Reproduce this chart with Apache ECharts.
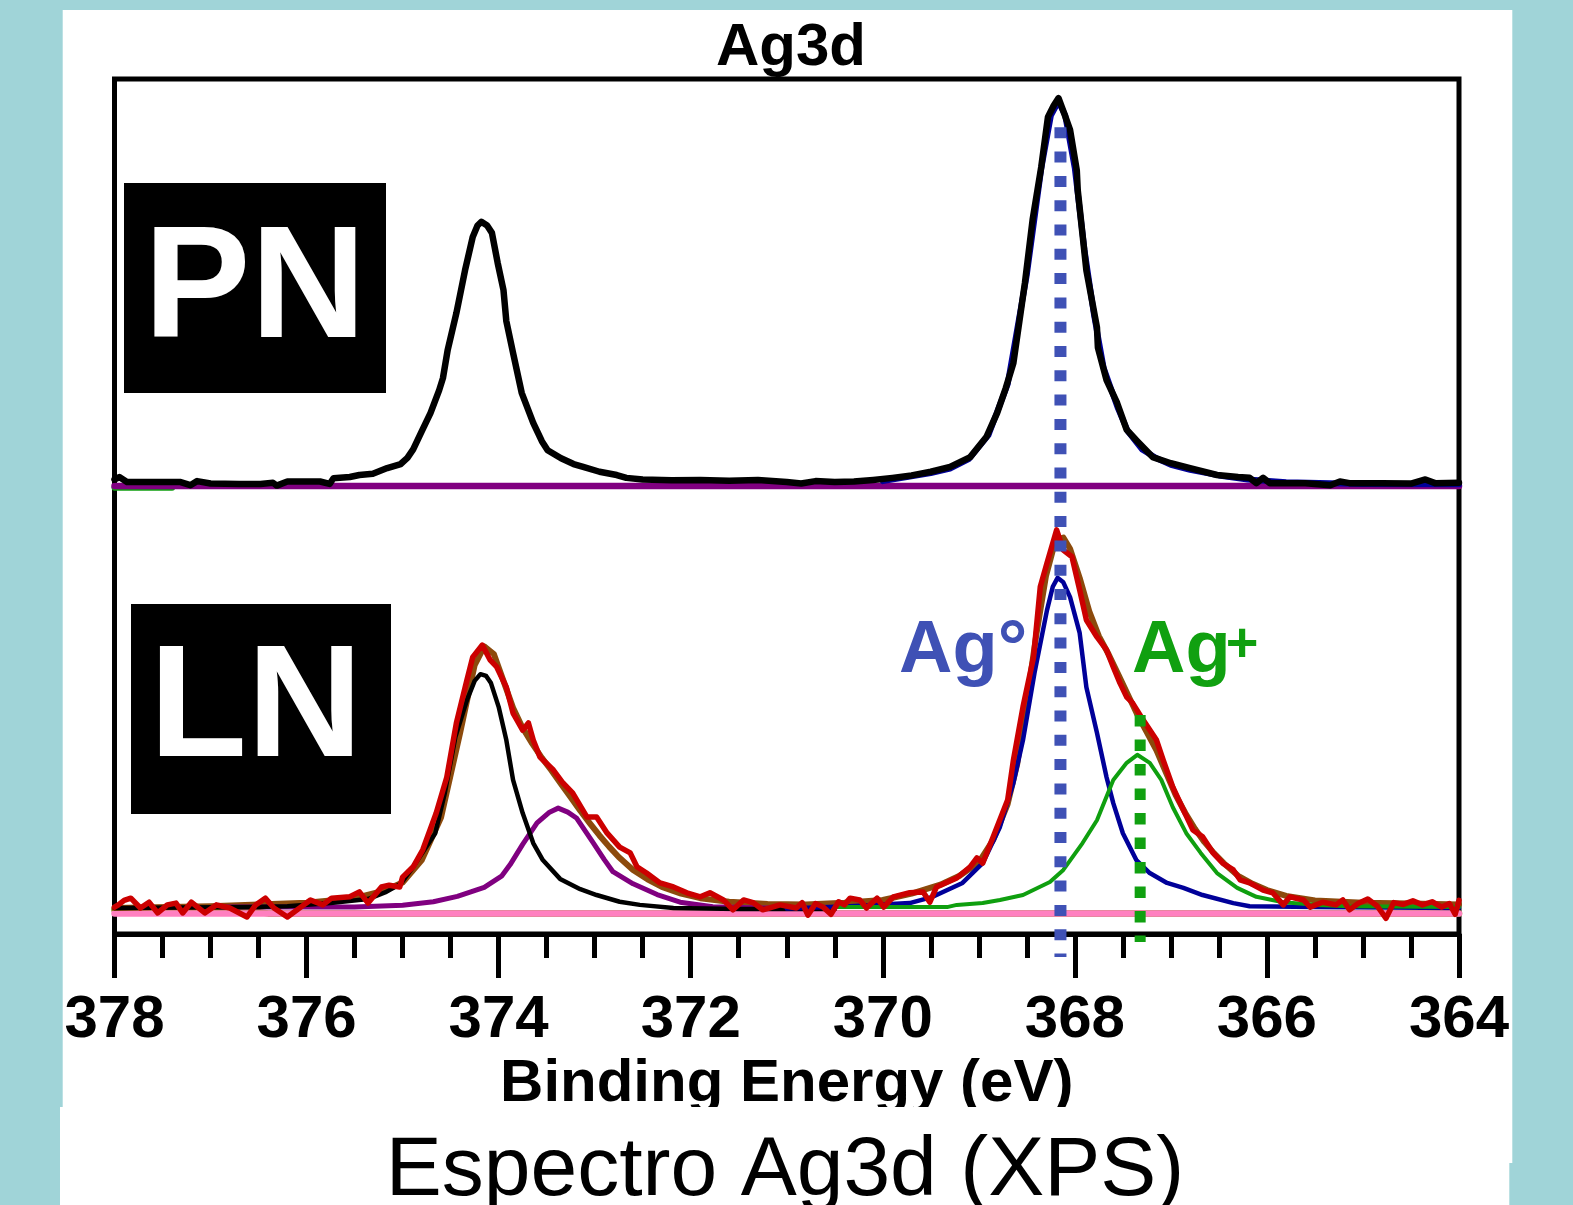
<!DOCTYPE html>
<html lang="es">
<head>
    <meta charset="UTF-8">
    <title>Espectro Ag3d (XPS)</title>
    <style>
        html, body { margin: 0; padding: 0; background: #a0d4d8; }
        #main { width: 1573px; height: 1205px; }
    </style>
</head>
<body>
<div id="main"></div>
<script src="https://cdn.jsdelivr.net/npm/echarts@6/dist/echarts.min.js"></script>
<script>
    // ---- datos: [energía de enlace (eV), intensidad (u.a.)] ----

    // panel PN (arriba)
    const pnMedido = [
        [378.00, 1.6], [377.95, 2.2], [377.87, 1.0], [377.60, 1.0], [377.32, 1.0], [377.21, 0.2],
        [377.14, 1.2], [377.00, 0.6], [376.70, 0.5], [376.48, 0.5], [376.35, 0.8], [376.31, 0.1],
        [376.20, 1.1], [375.95, 1.1], [375.86, 1.1], [375.76, 0.5], [375.72, 1.9], [375.55, 2.2],
        [375.45, 2.7], [375.31, 3.0], [375.16, 4.4], [375.02, 5.4], [374.95, 6.9], [374.89, 9.0],
        [374.80, 13.5], [374.71, 17.9], [374.62, 23.5], [374.58, 26.5], [374.53, 33.5], [374.44, 42.5],
        [374.35, 53.0], [374.27, 61.2], [374.22, 64.0], [374.18, 64.9], [374.12, 64.0], [374.07, 62.2],
        [374.01, 54.8], [373.95, 48.2], [373.92, 40.5], [373.85, 32.7], [373.76, 22.9], [373.64, 15.5],
        [373.55, 11.0], [373.49, 8.8], [373.35, 6.8], [373.22, 5.4], [373.12, 4.7], [372.95, 3.5],
        [372.77, 2.7], [372.67, 2.0], [372.50, 1.6], [372.20, 1.4], [371.90, 1.5], [371.60, 1.3],
        [371.30, 1.5], [371.00, 1.0], [370.85, 0.6], [370.70, 1.2], [370.50, 1.0], [370.30, 1.1],
        [370.10, 1.5], [369.90, 2.0], [369.70, 2.6], [369.50, 3.5], [369.30, 4.7], [369.09, 7.1],
        [368.92, 12.1], [368.81, 17.9], [368.72, 24.0], [368.64, 30.2], [368.55, 45.0], [368.52, 49.9],
        [368.44, 65.4], [368.35, 78.4], [368.28, 90.7], [368.22, 93.5], [368.17, 95.3], [368.11, 91.5],
        [368.05, 87.5], [367.98, 77.6], [367.97, 72.7], [367.88, 53.0], [367.77, 39.0], [367.76, 34.0],
        [367.67, 26.0], [367.56, 20.4], [367.46, 13.8], [367.35, 11.0], [367.19, 7.1], [367.00, 5.6],
        [366.80, 4.4], [366.52, 2.7], [366.30, 2.2], [366.18, 2.0], [366.11, 0.7], [366.04, 2.0],
        [365.97, 0.7], [365.60, 0.7], [365.34, 0.2], [365.24, 1.1], [365.14, 0.7], [364.80, 0.7],
        [364.50, 0.6], [364.35, 1.6], [364.25, 0.7], [364.00, 0.8]
    ];
    const pnAjuste = [
        [370.0, 1.2], [369.5, 3.2], [369.3, 4.3], [369.1, 6.7], [368.9, 12.5], [368.7, 25.0],
        [368.5, 52.0], [368.35, 78.0], [368.25, 91.0], [368.17, 94.5], [368.1, 91.0], [368.0, 78.0],
        [367.9, 58.0], [367.8, 42.0], [367.7, 29.0], [367.55, 19.0], [367.45, 13.5], [367.3, 9.0],
        [367.15, 6.8], [367.0, 5.2], [366.8, 4.0], [366.5, 2.6], [366.2, 1.6], [365.8, 0.9],
        [365.0, 0.5], [364.0, 0.4]
    ];
    const pnFondo = [[378, 0], [364, 0]];
    const pnFondoVerde = [[378, -0.4], [377.4, -0.4]];

    // panel LN (abajo)
    const lnMedido = [
        [378.00, 6.0], [377.96, 6.5], [377.90, 7.5], [377.83, 8.0], [377.73, 5.8], [377.64, 7.1],
        [377.55, 4.7], [377.45, 6.5], [377.36, 6.9], [377.29, 4.7], [377.20, 7.1], [377.06, 4.7],
        [376.94, 6.5], [376.80, 5.8], [376.62, 3.8], [376.53, 6.5], [376.43, 8.0], [376.34, 5.8],
        [376.20, 3.8], [376.06, 6.0], [375.96, 7.6], [375.83, 6.5], [375.74, 8.0], [375.55, 8.3],
        [375.45, 9.4], [375.36, 6.9], [375.22, 10.5], [375.14, 10.9], [375.03, 10.5], [375.00, 12.7],
        [374.89, 15.0], [374.79, 18.8], [374.65, 27.0], [374.54, 35.0], [374.44, 47.1], [374.33, 56.7],
        [374.27, 61.8], [374.17, 64.5], [374.09, 61.2], [374.02, 59.6], [373.92, 55.1], [373.85, 49.3],
        [373.75, 45.5], [373.69, 47.1], [373.64, 43.3], [373.57, 39.5], [373.43, 36.6], [373.33, 33.7],
        [373.23, 31.5], [373.08, 26.1], [372.98, 26.1], [372.87, 22.5], [372.74, 19.4], [372.63, 18.1],
        [372.56, 15.0], [372.46, 13.6], [372.32, 11.4], [372.18, 10.5], [372.04, 9.2], [371.90, 8.3],
        [371.80, 9.2], [371.66, 7.6], [371.56, 5.4], [371.45, 7.6], [371.35, 7.0], [371.25, 5.4],
        [371.07, 6.5], [370.90, 5.8], [370.84, 7.0], [370.78, 4.2], [370.70, 6.8], [370.62, 6.0],
        [370.54, 4.4], [370.46, 7.2], [370.40, 6.5], [370.34, 8.0], [370.24, 7.6], [370.17, 5.8],
        [370.06, 8.0], [369.99, 6.0], [369.89, 8.3], [369.72, 9.2], [369.58, 9.4], [369.51, 7.1],
        [369.44, 10.5], [369.23, 12.5], [369.09, 15.0], [369.02, 17.0], [368.96, 15.8], [368.85, 21.7],
        [368.70, 29.9], [368.64, 38.8], [368.54, 50.7], [368.43, 61.8], [368.36, 77.5], [368.29, 82.8],
        [368.19, 90.2], [368.12, 85.7], [368.03, 84.2], [367.95, 76.8], [367.88, 70.1], [367.77, 66.3],
        [367.67, 63.4], [367.60, 59.6], [367.53, 56.0], [367.46, 52.9], [367.40, 51.6], [367.29, 47.8],
        [367.15, 43.3], [367.08, 38.8], [366.98, 32.8], [366.87, 27.7], [366.77, 23.2], [366.67, 21.7],
        [366.56, 18.1], [366.46, 15.8], [366.35, 14.3], [366.28, 12.1], [366.18, 11.4], [366.04, 9.8],
        [365.94, 9.2], [365.83, 6.5], [365.76, 8.3], [365.62, 7.6], [365.55, 6.0], [365.42, 7.1],
        [365.28, 6.5], [365.21, 7.6], [365.14, 5.4], [365.05, 6.8], [364.95, 7.8], [364.85, 6.2],
        [364.76, 3.5], [364.68, 7.0], [364.58, 6.6], [364.48, 7.4], [364.38, 6.5], [364.28, 7.2],
        [364.18, 6.0], [364.10, 6.8], [364.04, 4.4], [364.00, 7.5]
    ];
    const lnEnvolvente = [
        [378.0, 5.8], [377.0, 6.2], [376.0, 7.0], [375.5, 8.0], [375.2, 9.6], [375.0, 11.5],
        [374.8, 16.5], [374.6, 26.0], [374.4, 45.0], [374.25, 60.0], [374.15, 64.2], [374.05, 62.5],
        [373.95, 56.5], [373.85, 50.5], [373.75, 46.0], [373.65, 42.5], [373.55, 39.3], [373.45, 36.5],
        [373.35, 33.5], [373.25, 30.5], [373.15, 27.5], [373.05, 24.7], [372.95, 22.0], [372.85, 19.5],
        [372.75, 17.2], [372.6, 14.3], [372.45, 12.2], [372.3, 10.5], [372.1, 9.0], [371.9, 8.0],
        [371.6, 7.2], [371.2, 6.7], [370.8, 6.6], [370.4, 7.0], [370.0, 7.6], [369.7, 9.0],
        [369.4, 11.0], [369.2, 13.0], [369.0, 16.0], [368.85, 21.0], [368.7, 29.0], [368.6, 38.0],
        [368.5, 52.0], [368.4, 67.0], [368.3, 80.0], [368.2, 88.0], [368.12, 88.5], [368.05, 86.0],
        [367.95, 79.5], [367.85, 72.0], [367.75, 66.5], [367.65, 62.5], [367.55, 58.0], [367.45, 53.5],
        [367.35, 49.0], [367.25, 45.0], [367.15, 41.0], [367.05, 36.0], [366.95, 31.0], [366.85, 27.0],
        [366.75, 23.5], [366.65, 20.5], [366.55, 18.0], [366.45, 15.8], [366.3, 13.0], [366.15, 11.2],
        [366.0, 9.8], [365.8, 8.5], [365.5, 7.5], [365.0, 7.0], [364.5, 6.8], [364.0, 6.6]
    ];
    const lnAg0_32 = [   // Ag° 3d3/2
        [378.0, 5.8], [376.6, 6.0], [376.2, 6.2], [375.75, 6.9], [375.36, 7.8], [375.17, 9.4],
        [375.02, 11.2], [374.89, 15.0], [374.78, 18.6], [374.66, 22.5], [374.56, 31.5], [374.45, 44.0],
        [374.33, 52.2], [374.25, 56.5], [374.19, 58.0], [374.13, 57.6], [374.08, 56.0], [374.00, 50.7],
        [373.92, 43.3], [373.85, 34.4], [373.75, 27.0], [373.64, 20.3], [373.54, 16.5], [373.36, 12.3],
        [373.15, 10.0], [372.98, 8.7], [372.74, 7.2], [372.53, 6.5], [372.18, 5.8], [371.5, 5.6],
        [370.5, 5.6]
    ];
    const lnAgI_32 = [   // Ag+ 3d3/2
        [376.9, 6.0], [375.5, 6.0], [375.0, 6.4], [374.68, 7.2], [374.43, 8.4], [374.15, 10.4],
        [373.97, 12.9], [373.88, 15.5], [373.75, 20.0], [373.60, 24.8], [373.47, 27.2], [373.38, 28.1],
        [373.28, 27.2], [373.19, 25.9], [373.02, 20.5], [372.90, 16.6], [372.81, 13.9], [372.60, 11.2],
        [372.35, 8.8], [372.11, 7.1], [371.77, 6.1], [371.25, 5.8], [370.5, 5.7]
    ];
    const lnAg0_52 = [   // Ag° 3d5/2
        [371.0, 5.7], [370.34, 6.2], [369.72, 6.9], [369.48, 8.3], [369.17, 11.4], [368.96, 15.8],
        [368.78, 23.9], [368.64, 33.7], [368.54, 43.3], [368.42, 58.3], [368.29, 72.3], [368.23, 77.5],
        [368.18, 79.5], [368.12, 78.5], [368.05, 75.2], [367.95, 67.2], [367.88, 55.1], [367.77, 44.9],
        [367.67, 35.0], [367.60, 29.2], [367.50, 22.5], [367.36, 16.5], [367.22, 13.6], [367.04, 11.4],
        [366.87, 10.3], [366.67, 8.7], [366.35, 6.9], [366.18, 6.2], [365.48, 6.0], [364.0, 5.8]
    ];
    const lnAgI_52 = [   // Ag+ 3d5/2
        [370.5, 6.0], [369.33, 6.0], [369.23, 6.5], [368.96, 6.9], [368.78, 7.6], [368.54, 8.7],
        [368.26, 11.6], [368.12, 14.3], [367.92, 20.3], [367.77, 25.4], [367.60, 34.4], [367.46, 38.2],
        [367.35, 40.0], [367.22, 38.2], [367.10, 34.4], [366.98, 28.3], [366.84, 22.5], [366.69, 18.1],
        [366.52, 13.6], [366.31, 10.3], [366.11, 8.3], [365.83, 7.1], [365.48, 6.5], [365.14, 6.2],
        [364.0, 6.0]
    ];
    const lnFondo = [[378, 4.6], [364, 4.6]];
    const lnFondoOliva = [[378, 5.4], [376.6, 5.2], [376.4, 4.6], [364, 4.6]];

    // posiciones de referencia (eV)
    const posAg0 = 368.15;
    const posAgI = 367.32;

    // ---- diseño ----
    const FONT = '"Liberation Sans", Arial, Helvetica, sans-serif';
    const L = 114.5, W = 1344.5, T = 79, MID = 486, B = 934;
    const frac = px => (B - px) / (B - T);   // pixel -> eje y del marco (0..1)

    const dom = document.getElementById('main');
    const myChart = echarts.init(dom, null, {renderer: 'canvas'});

    function linea(data, color, width, xi, z) {
        return {
            type: 'line', xAxisIndex: xi, yAxisIndex: xi, data: data,
            symbol: 'none', showSymbol: false, clip: false, silent: true, z: z || 2,
            lineStyle: {color: color, width: width, join: 'round', cap: 'round'}
        };
    }

    function punteada(x, yTop, yBot, color, width, dash) {
        return {
            type: 'line', xAxisIndex: 2, yAxisIndex: 2,
            data: [[x, frac(yTop)], [x, frac(yBot)]],
            symbol: 'none', showSymbol: false, clip: false, silent: true, z: 5,
            lineStyle: {color: color, width: width, type: dash, cap: 'butt'}
        };
    }

    const ejeX = {
        type: 'value', min: 364, max: 378, interval: 2, inverse: true, show: false
    };

    const option = {
        backgroundColor: '#a0d4d8',
        animation: false,
        grid: [
            {left: L, width: W, top: T, height: MID - T},
            {left: L, width: W, top: MID, height: B - MID},
            {left: L, width: W, top: T, height: B - T, show: true,
                borderColor: '#000', borderWidth: 5, backgroundColor: 'transparent'}
        ],
        xAxis: [
            Object.assign({gridIndex: 0}, ejeX),
            {
                gridIndex: 1, type: 'value', min: 364, max: 378, interval: 2, inverse: true,
                axisLine: {show: true, onZero: false, lineStyle: {color: '#000', width: 5}},
                axisTick: {show: true, length: 44, lineStyle: {color: '#000', width: 5}},
                minorTick: {show: true, splitNumber: 4, length: 24, lineStyle: {color: '#000', width: 5}},
                splitLine: {show: false},
                axisLabel: {margin: 56, fontFamily: FONT, fontWeight: 'bold', fontSize: 60, color: '#000'},
                name: 'Binding Energy (eV)', nameLocation: 'middle', nameGap: 120,
                nameTextStyle: {fontFamily: FONT, fontWeight: 'bold', fontSize: 60, color: '#000'}
            },
            Object.assign({gridIndex: 2}, ejeX)
        ],
        yAxis: [
            {gridIndex: 0, type: 'value', min: 0, max: 100, show: false},
            {gridIndex: 1, type: 'value', min: 0, max: 100, show: false},
            {gridIndex: 2, type: 'value', min: 0, max: 1, show: false}
        ],
        series: [
            // PN
            linea(pnFondoVerde, '#0f9f0f', 6, 0),
            linea(pnFondo, '#800080', 6.5, 0),
            linea(pnAjuste, '#000099', 6, 0),
            linea(pnMedido, '#000000', 6.5, 0),
            // LN
            linea(lnFondoOliva, '#808000', 6.5, 1),
            linea(lnFondo, '#ff80c0', 6.5, 1),
            linea(lnEnvolvente, '#8c4a0c', 6, 1),
            linea(lnAgI_32, '#800080', 5, 1),
            linea(lnAg0_32, '#000000', 4.5, 1),
            linea(lnAg0_52, '#000099', 4.5, 1),
            linea(lnAgI_52, '#0f9f0f', 4, 1),
            linea(lnMedido, '#cc0000', 5.5, 1, 3),
            // líneas de referencia
            punteada(posAg0, 127.3, 957, '#3f51b5', 12, [11, 13.3]),
            punteada(posAgI, 715, 942, '#10a010', 11, [11.5, 13])
        ],
        graphic: [
            {type: 'rect', z: -10, shape: {x: 62.7, y: 10, width: 1449.6, height: 1153},
                style: {fill: '#ffffff'}},
            {type: 'text', z: 10, x: 791, y: 48,
                style: {text: 'Ag3d', font: 'bold 60px ' + FONT, fill: '#000',
                    align: 'center', verticalAlign: 'middle'}},
            {type: 'rect', z: 10, shape: {x: 124, y: 183, width: 262, height: 210}, style: {fill: '#000'}},
            {type: 'text', z: 11, x: 255, y: 292.6,
                style: {text: 'PN', font: 'bold 160px ' + FONT, fill: '#fff',
                    align: 'center', verticalAlign: 'middle'}},
            {type: 'rect', z: 10, shape: {x: 131, y: 604, width: 260, height: 210}, style: {fill: '#000'}},
            {type: 'text', z: 11, x: 256, y: 712,
                style: {text: 'LN', font: 'bold 160px ' + FONT, fill: '#fff',
                    align: 'center', verticalAlign: 'middle'}},
            {type: 'text', z: 10, x: 899, y: 651.4,
                style: {text: 'Ag°', font: 'bold 74px ' + FONT, fill: '#3f51b5',
                    align: 'left', verticalAlign: 'middle'}},
            {type: 'text', z: 10, x: 1132, y: 651.4,
                style: {text: 'Ag', font: 'bold 74px ' + FONT, fill: '#10a010',
                    align: 'left', verticalAlign: 'middle'}},
            {type: 'text', z: 10, x: 1242, y: 646,
                style: {text: '+', font: 'bold 56px ' + FONT, fill: '#10a010',
                    align: 'center', verticalAlign: 'middle'}},
            {type: 'rect', z: 100, shape: {x: 60, y: 1107, width: 1449.3, height: 98},
                style: {fill: '#ffffff'}},
            {type: 'text', z: 101, x: 785, y: 1172,
                style: {text: 'Espectro Ag3d (XPS)', font: '84px ' + FONT, fill: '#000',
                    align: 'center', verticalAlign: 'middle'}}
        ]
    };

    myChart.setOption(option);
</script>
</body>
</html>
